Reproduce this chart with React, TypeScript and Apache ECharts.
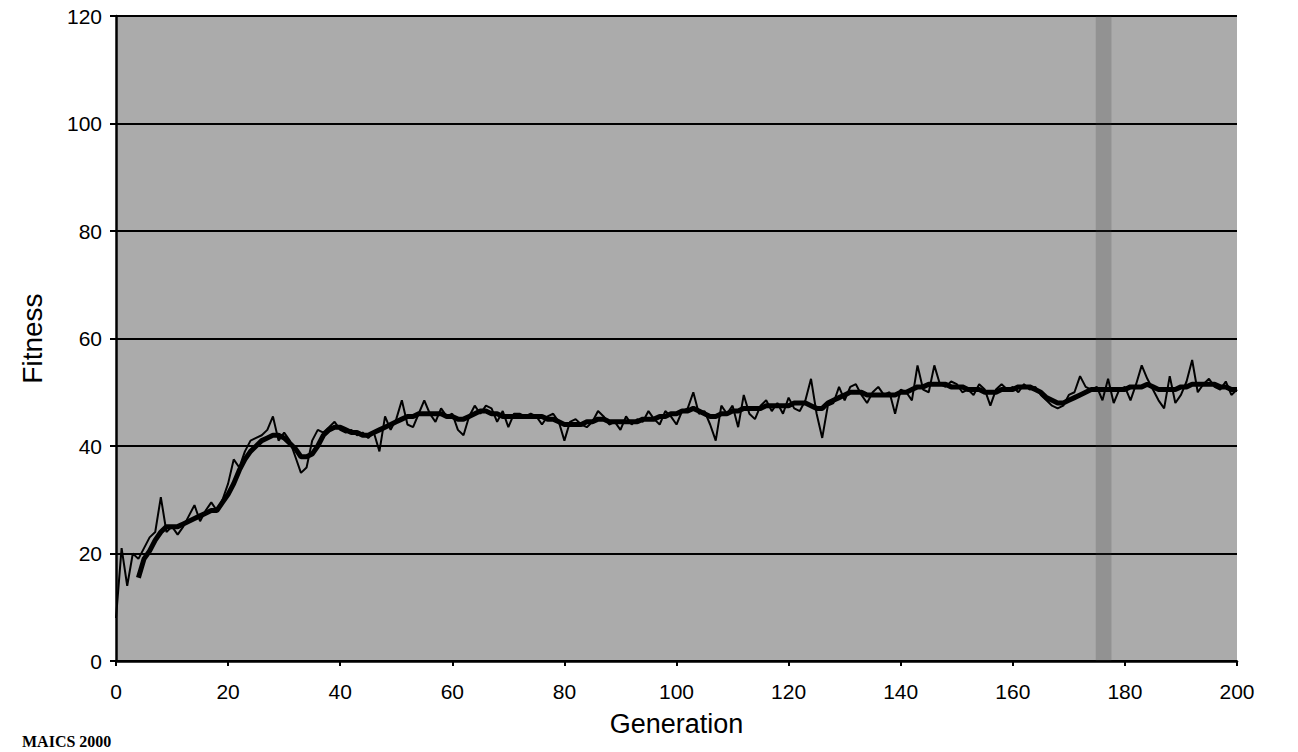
import React, { useEffect, useRef } from "react";
import * as echarts from "echarts";

const generations: number[] = Array.from({ length: 201 }, (_, i) => i);

const rawFitness: number[] = [
  8, 21, 14, 20, 19, 21, 23, 24, 30.5, 24,
  25, 23.5, 25, 27, 29, 26, 28, 29.5, 28, 30,
  33, 37.5, 36, 39, 41, 41.5, 42, 43, 45.5, 41,
  42.5, 41, 38, 35, 36, 41, 43, 42.5, 43.5, 44.5,
  43, 42.5, 43, 42, 42.5, 41.5, 42.5, 39, 45.5, 43,
  45, 48.5, 44, 43.5, 46, 48.5, 46, 44.5, 47, 45.5,
  46, 43, 42, 45.5, 47.5, 46, 47.5, 47, 44.5, 46.5,
  43.5, 46, 46, 45.5, 46, 45.5, 44, 45.5, 46, 44.5,
  41, 44.5, 45, 44, 43.5, 44.5, 46.5, 45.5, 44, 44.5,
  43, 45.5, 44, 45, 44.5, 46.5, 45, 44, 46.5, 45.5,
  44, 46.5, 47, 50, 46, 46.5, 44, 41, 47.5, 46,
  47.5, 43.5, 49.5, 46, 45, 47.5, 48.5, 46.5, 48, 46,
  49, 47, 46.5, 48.5, 52.5, 46, 41.5, 47.5, 48, 51,
  48.5, 51, 51.5, 49.5, 48, 50, 51, 49.5, 50, 46,
  50.5, 50, 48.5, 55, 50.5, 50, 55, 51.5, 51, 52,
  51.5, 50, 50.5, 49.5, 51.5, 50.5, 47.5, 50.5, 51.5, 50.5,
  51, 50, 51.5, 50.5, 51, 49.5, 48.5, 47.5, 47, 47.5,
  49.5, 50, 53, 51, 50.5, 51, 48.5, 52.5, 48, 50.5,
  51, 48.5, 51.5, 55, 52.5, 50.5, 48.5, 47, 53, 48,
  49.5, 52, 56, 50, 51.5, 52.5, 51, 50.5, 52, 49.5,
  50.5,
];

const smoothFitness: (number | null)[] = [
  null, null, null, null, 15.5, 19, 20.5, 22.5, 24, 25,
  25, 25, 25.5, 26, 26.5, 27, 27.5, 28, 28, 29.5,
  31, 33, 35.5, 37.5, 39, 40, 41, 41.5, 42, 42,
  41.5, 40.5, 39.5, 38, 38, 38.5, 40, 42, 43, 43.5,
  43.5, 43, 42.5, 42.5, 42, 42, 42.5, 43, 43.5, 44,
  44.5, 45, 45.5, 45.5, 46, 46, 46, 46, 46, 45.5,
  45.5, 45, 45, 45.5, 46, 46.5, 46.5, 46, 46, 45.5,
  45.5, 45.5, 45.5, 45.5, 45.5, 45.5, 45.5, 45, 45, 44.5,
  44, 44, 44, 44, 44.5, 44.5, 45, 45, 44.5, 44.5,
  44.5, 44.5, 44.5, 44.5, 45, 45, 45, 45.5, 45.5, 46,
  46, 46.5, 46.5, 47, 46.5, 46, 45.5, 45.5, 46, 46,
  46.5, 46.5, 47, 47, 47, 47, 47.5, 47.5, 47.5, 47.5,
  47.5, 48, 48, 48, 47.5, 47, 47, 48, 48.5, 49,
  49.5, 50, 50, 50, 49.5, 49.5, 49.5, 49.5, 49.5, 49.5,
  50, 50, 50.5, 51, 51, 51.5, 51.5, 51.5, 51.5, 51,
  51, 51, 50.5, 50.5, 50.5, 50, 50, 50, 50.5, 50.5,
  50.5, 51, 51, 51, 50.5, 50, 49, 48.5, 48, 48,
  48.5, 49, 49.5, 50, 50.5, 50.5, 50.5, 50.5, 50.5, 50.5,
  50.5, 51, 51, 51, 51.5, 51, 50.5, 50.5, 50.5, 50.5,
  51, 51, 51.5, 51.5, 51.5, 51.5, 51.5, 51, 51, 50.5,
  50.5,
];

const yTicks = [0, 20, 40, 60, 80, 100, 120];
const xTicks = [0, 20, 40, 60, 80, 100, 120, 140, 160, 180, 200];
const darkBand: [number, number] = [174.8, 177.6];

const FONT = "'Liberation Sans', Arial, sans-serif";

export default function App() {
  const ref = useRef<HTMLDivElement>(null);
  useEffect(() => {
    if (!ref.current) return;
    const chart = echarts.init(ref.current, undefined, { renderer: "svg" });
    chart.setOption({
      animation: false,
      backgroundColor: "#ffffff",
      grid: {
        left: 116,
        right: 61,
        top: 16,
        bottom: 91,
        show: true,
        backgroundColor: "#ababab",
        borderWidth: 0,
      },
      xAxis: {
        type: "value",
        min: xTicks[0],
        max: xTicks[xTicks.length - 1],
        interval: 20,
        name: "Generation",
        nameLocation: "middle",
        nameGap: 49,
        nameTextStyle: { fontFamily: FONT, fontSize: 27, color: "#000" },
        axisLine: { show: true, onZero: false, lineStyle: { color: "#000", width: 2.5 } },
        axisTick: { show: true, length: 5, lineStyle: { color: "#000", width: 2 } },
        axisLabel: { fontFamily: FONT, fontSize: 21, color: "#000", margin: 20 },
        splitLine: { show: false },
      },
      yAxis: {
        type: "value",
        min: yTicks[0],
        max: yTicks[yTicks.length - 1],
        interval: 20,
        name: "Fitness",
        nameLocation: "middle",
        nameGap: 70,
        nameRotate: 90,
        nameTextStyle: { fontFamily: FONT, fontSize: 28, color: "#000" },
        axisLine: { show: true, lineStyle: { color: "#000", width: 2.5 } },
        axisTick: { show: true, length: 6, lineStyle: { color: "#000", width: 2 } },
        axisLabel: { fontFamily: FONT, fontSize: 21, color: "#000", margin: 14 },
        splitLine: { show: true, lineStyle: { color: "#000", width: 2 } },
      },
      series: [
        {
          type: "line",
          name: "Fitness",
          data: generations.map((g, i) => [g, rawFitness[i]]),
          showSymbol: false,
          lineStyle: { color: "#000", width: 2 },
          markArea: {
            silent: true,
            itemStyle: { color: "rgba(60,60,60,0.22)" },
            data: [[{ xAxis: darkBand[0] }, { xAxis: darkBand[1] }]],
          },
        },
        {
          type: "line",
          name: "Average",
          data: generations.map((g, i) => [g, smoothFitness[i]]),
          showSymbol: false,
          connectNulls: false,
          lineStyle: { color: "#000", width: 5 },
        },
      ],
      graphic: [
        {
          type: "text",
          left: 22,
          top: 733,
          style: {
            text: "MAICS 2000",
            fontFamily: "'Liberation Serif', serif",
            fontSize: 16,
            fontWeight: "bold",
            fill: "#000",
          },
        },
      ],
    });
    return () => chart.dispose();
  }, []);
  return <div ref={ref} style={{ width: 1298, height: 752, position: "absolute", left: 0, top: 0 }} />;
}
